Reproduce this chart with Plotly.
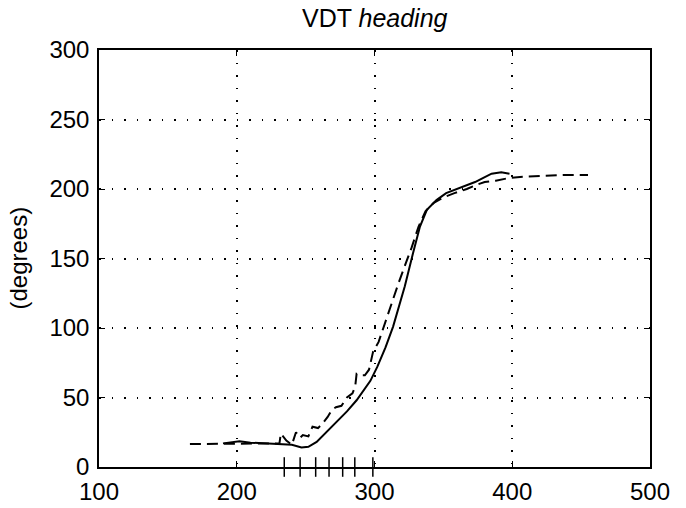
import plotly.graph_objects as go

# Solid curve (heading, degrees)
solid_x = [190, 202, 210, 220, 230, 240, 247, 252, 258, 265, 272, 280, 287, 293, 297, 302,
           308, 313.5, 318, 322, 328, 333, 338, 345, 352, 360, 367, 373, 379, 385, 392, 398]
solid_y = [17, 18.5, 17.5, 17, 17, 16, 14, 14.5, 18, 25, 32, 40, 48, 56, 62, 72,
           86, 101, 116, 130, 154, 173, 185, 192, 197, 200, 203, 205, 208, 211, 212, 211]

# Dashed curve
dash_x = [166, 180, 190, 200, 210, 220, 228, 231, 232, 236, 240, 243, 246, 248, 252, 255,
          259, 262, 266, 269, 272, 276, 280, 284, 286, 287, 290, 293, 296, 299, 303, 306,
          310, 313.5, 317, 321, 327, 332, 337, 343, 350, 358, 367, 374, 380, 388, 398, 410,
          420, 437, 455]
dash_y = [16.5, 16.5, 17, 17, 17, 17, 17, 17, 24, 19, 16, 25, 21, 23, 22, 29,
          28, 31, 36, 41, 43, 44, 50, 53, 58, 67, 66, 66, 70, 83, 90, 99,
          110, 120, 131, 142, 158, 173, 184, 190, 194, 197, 200, 203, 205, 206, 208, 209,
          209.5, 210, 210]

# Event marks on the x axis
mark_x = [234.5, 246, 257.3, 267, 276.9, 285.7, 298.8]
mark_y = [0] * len(mark_x)

x_ticks = [100, 200, 300, 400, 500]
y_ticks = [0, 50, 100, 150, 200, 250, 300]

FONT = "Liberation Sans, Arial, sans-serif"

fig = go.Figure()
fig.add_trace(go.Scatter(x=solid_x, y=solid_y, mode="lines",
                         line=dict(color="black", width=2), showlegend=False))
fig.add_trace(go.Scatter(x=dash_x, y=dash_y, mode="lines",
                         line=dict(color="black", width=2, dash="11px,6px"), showlegend=False))
fig.add_trace(go.Scatter(x=mark_x, y=mark_y, mode="markers", cliponaxis=False,
                         marker=dict(symbol="line-ns", size=14,
                                     line=dict(color="black", width=1.5)),
                         showlegend=False))

axis_common = dict(
    showline=True, linecolor="black", linewidth=1.5, mirror="ticks",
    ticks="inside", ticklen=6, tickcolor="black", tickwidth=1,
    showgrid=True, gridcolor="black", gridwidth=1.5, griddash="1.5px,11px",
    zeroline=False, automargin=False,
    tickfont=dict(family=FONT, size=24, color="black"),
)

fig.update_layout(
    width=686, height=508,
    margin=dict(l=99, r=36, t=50, b=41),
    paper_bgcolor="white", plot_bgcolor="white",
    xaxis=dict(range=[100, 500], tickvals=x_ticks, ticklabelstandoff=2, **axis_common),
    yaxis=dict(range=[0, 300], tickvals=y_ticks, ticklabelstandoff=3, **axis_common),
    annotations=[
        dict(text="VDT <i>heading</i>", xref="paper", yref="paper",
             x=0.5, y=1, yanchor="bottom", yshift=16, showarrow=False,
             font=dict(family=FONT, size=25, color="black")),
        dict(text="(degrees)", xref="paper", yref="paper", x=0, y=0.5,
             xanchor="center", yanchor="middle", xshift=-81, textangle=-90,
             showarrow=False, font=dict(family=FONT, size=24, color="black")),
    ],
)

fig.write_html("out.html")
